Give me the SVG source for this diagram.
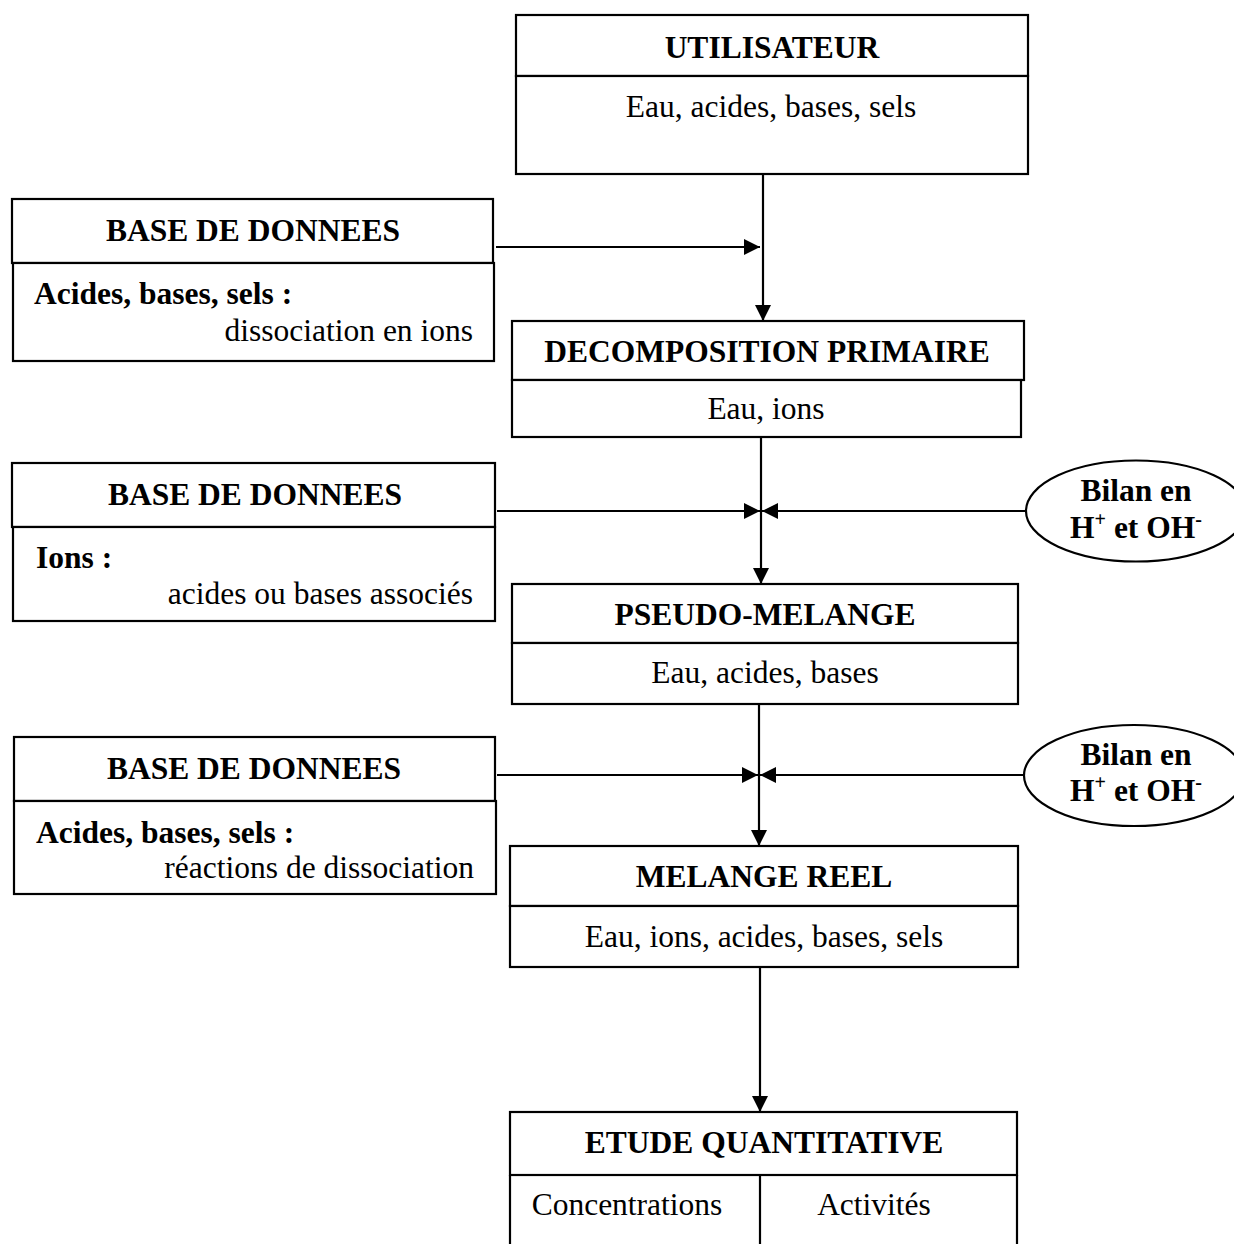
<svg xmlns="http://www.w3.org/2000/svg" width="1234" height="1244" viewBox="0 0 1234 1244">
<defs>
<style>
.box{fill:#fff;stroke:#000;stroke-width:2.2}
.ln{fill:none;stroke:#000;stroke-width:2.2}
.t{font-family:"Liberation Serif","Times New Roman",serif;font-size:31.5px;fill:#000}
.b{font-weight:bold}
.c{text-anchor:middle}
.e{text-anchor:end}
</style>
<marker id="ah" viewBox="0 0 16 16" markerUnits="userSpaceOnUse" markerWidth="16" markerHeight="16" refX="16" refY="8" orient="auto">
<path d="M0,0 L16,8 L0,16 z" fill="#000"/>
</marker>
</defs>
<rect width="1234" height="1244" fill="#fff"/>

<g id="connectors">
<line class="ln" x1="763" y1="174" x2="763" y2="321" marker-end="url(#ah)"/>
<line class="ln" x1="496" y1="247" x2="760" y2="247" marker-end="url(#ah)"/>
<line class="ln" x1="761" y1="437" x2="761" y2="584" marker-end="url(#ah)"/>
<line class="ln" x1="497" y1="511" x2="760" y2="511" marker-end="url(#ah)"/>
<line class="ln" x1="1026" y1="511" x2="762" y2="511" marker-end="url(#ah)"/>
<line class="ln" x1="759" y1="704" x2="759" y2="846" marker-end="url(#ah)"/>
<line class="ln" x1="497" y1="775" x2="758" y2="775" marker-end="url(#ah)"/>
<line class="ln" x1="1023" y1="775" x2="760" y2="775" marker-end="url(#ah)"/>
<line class="ln" x1="760" y1="967" x2="760" y2="1112" marker-end="url(#ah)"/>
</g>

<g id="utilisateur">
<rect class="box" x="516" y="15" width="512" height="61"/>
<rect class="box" x="516" y="76" width="512" height="98"/>
<text class="t b c" x="772" y="58">UTILISATEUR</text>
<text class="t c" x="771" y="117">Eau, acides, bases, sels</text>
</g>

<g id="base1">
<rect class="box" x="12" y="199" width="481" height="64"/>
<rect class="box" x="13" y="263" width="481" height="98"/>
<text class="t b c" x="253" y="241">BASE DE DONNEES</text>
<text class="t b" x="34" y="304">Acides, bases, sels :</text>
<text class="t e" x="473" y="341">dissociation en ions</text>
</g>

<g id="decomposition">
<rect class="box" x="512" y="321" width="512" height="59"/>
<rect class="box" x="512" y="380" width="509" height="57"/>
<text class="t b c" x="767" y="362">DECOMPOSITION PRIMAIRE</text>
<text class="t c" x="766" y="419">Eau, ions</text>
</g>

<g id="base2">
<rect class="box" x="12" y="463" width="483" height="64"/>
<rect class="box" x="13" y="527" width="482" height="94"/>
<text class="t b c" x="255" y="505">BASE DE DONNEES</text>
<text class="t b" x="36" y="568">Ions :</text>
<text class="t e" x="473" y="604">acides ou bases associés</text>
</g>

<g id="bilan1">
<ellipse class="box" cx="1136" cy="511" rx="110" ry="50.5"/>
<text class="t b c" x="1136" y="501">Bilan en</text>
<text class="t b c" x="1136" y="537.5">H<tspan dy="-12" font-size="20">+</tspan><tspan dy="12"> et OH</tspan><tspan dy="-12" font-size="20">-</tspan></text>
</g>

<g id="pseudo">
<rect class="box" x="512" y="584" width="506" height="59"/>
<rect class="box" x="512" y="643" width="506" height="61"/>
<text class="t b c" x="765" y="625">PSEUDO-MELANGE</text>
<text class="t c" x="765" y="683">Eau, acides, bases</text>
</g>

<g id="base3">
<rect class="box" x="14" y="737" width="481" height="64"/>
<rect class="box" x="14" y="801" width="482" height="93"/>
<text class="t b c" x="254" y="779">BASE DE DONNEES</text>
<text class="t b" x="36" y="843">Acides, bases, sels :</text>
<text class="t e" x="474" y="878">réactions de dissociation</text>
</g>

<g id="bilan2">
<ellipse class="box" cx="1134" cy="775.5" rx="110" ry="50.5"/>
<text class="t b c" x="1136" y="765">Bilan en</text>
<text class="t b c" x="1136" y="801">H<tspan dy="-12" font-size="20">+</tspan><tspan dy="12"> et OH</tspan><tspan dy="-12" font-size="20">-</tspan></text>
</g>

<g id="melange">
<rect class="box" x="510" y="846" width="508" height="60"/>
<rect class="box" x="510" y="906" width="508" height="61"/>
<text class="t b c" x="764" y="887">MELANGE REEL</text>
<text class="t c" x="764" y="947">Eau, ions, acides, bases, sels</text>
</g>

<g id="etude">
<rect class="box" x="510" y="1112" width="507" height="63"/>
<path class="ln" d="M510,1175 V1250 M1017,1175 V1250 M760,1175 V1250"/>
<text class="t b c" x="764" y="1153">ETUDE QUANTITATIVE</text>
<text class="t c" x="627" y="1215">Concentrations</text>
<text class="t c" x="874" y="1215">Activités</text>
</g>
</svg>
